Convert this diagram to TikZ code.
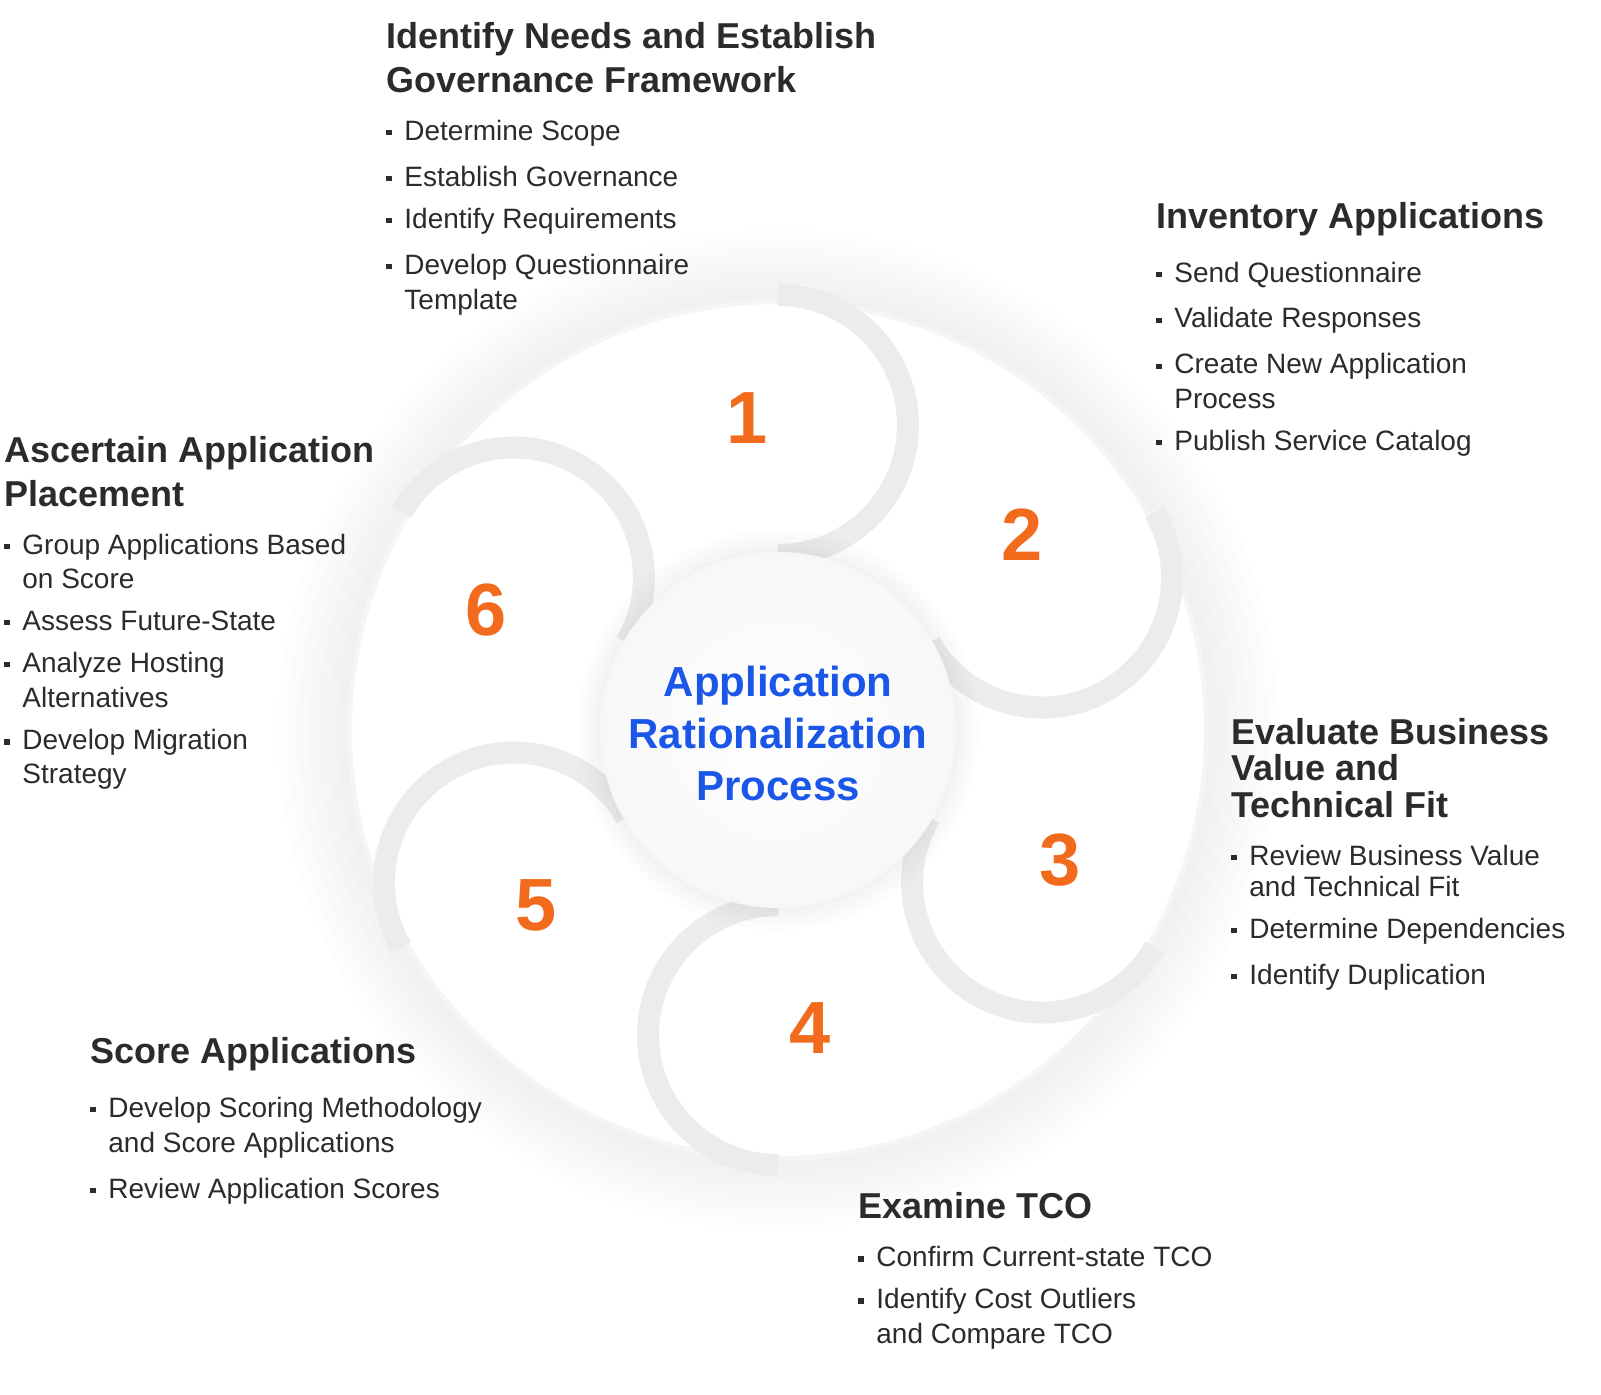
\documentclass[tikz,border=0pt]{standalone}
\usepackage{fontspec}
\setmainfont{Liberation Sans}
\usetikzlibrary{calc}
\definecolor{txt}{HTML}{2B2B2B}
\definecolor{org}{HTML}{F26B1D}
\definecolor{blu}{HTML}{1A56E8}
\definecolor{arcg}{HTML}{ECECEC}
\newcommand\itm[1]{\makebox[9pt][l]{\raisebox{2.5pt}{\rule{2.6pt}{2.6pt}}}#1}
\newcommand\cnt[1]{\hspace*{9pt}#1}
\newcommand\tf{\fontsize{18}{22}\selectfont\bfseries}
\newcommand\itf{\fontsize{14}{17}\selectfont\mdseries}
\tikzset{blk/.style={anchor=north west,align=left,inner sep=0pt,text=txt},
 num/.style={text=org,font=\fontsize{37}{37}\selectfont\bfseries},
 petal/.style={draw=arcg,line width=11pt}}
\begin{document}
\begin{tikzpicture}[x=0.5pt,y=0.5pt]
\foreach \r in {250,245,240,235,230,225,220}{\fill[black,opacity=0.006] (778,-730) circle (\r pt);}
\fill[white] (778,-730) circle (215pt);
\draw[gray!8,line width=2pt] (778,-730) circle (214pt);
\foreach \p in {90,30,-30,-90,-150,150}{
 \coordinate (c\p) at ($(778,-730)+(\p:152.5pt)$);
 \draw[petal] ($(c\p)+(\p:65pt)$) arc[start angle=\p, end angle=\p-180, radius=65pt];
}
\foreach \r in {100,97,94,91}{\fill[black,opacity=0.012] (778,-730) circle (\r pt);}
\shade[inner color=white,outer color=gray!6] (778,-730) circle (89pt);
\node[text=blu,align=center,font=\fontsize{21}{26}\selectfont\bfseries] (ctr) at (778,-733) {Application\\Rationalization\\Process};
\node[num] (n1) at (747,-418) {1};
\node[num] (n2) at (1022,-535) {2};
\node[num] (n3) at (1060,-860) {3};
\node[num] (n4) at (810,-1028) {4};
\node[num] (n5) at (536,-905) {5};
\node[num] (n6) at (486,-610) {6};
\node[blk] (b1) at (386,-22) {\tf Identify Needs and Establish\\[4pt]\tf Governance Framework\\[12pt]
\itf\itm{Determine Scope}\\[9pt]\itf\itm{Establish Governance}\\[9pt]\itf\itm{Identify Requirements}\\[9pt]\itf\itm{Develop Questionnaire}\\[3.5pt]\itf\cnt{Template}};
\node[blk] (b2) at (1156,-202) {\tf Inventory Applications\\[12pt]
\itf\itm{Send Questionnaire}\\[9pt]\itf\itm{Validate Responses}\\[9pt]\itf\itm{Create New Application}\\[3.5pt]\itf\cnt{Process}\\[9pt]\itf\itm{Publish Service Catalog}};
\node[blk] (b3) at (1231,-718) {\tf Evaluate Business\\[4pt]\tf Value and\\[4pt]\tf Technical Fit\\[12pt]
\itf\itm{Review Business Value}\\[3.5pt]\itf\cnt{and Technical Fit}\\[9pt]\itf\itm{Determine Dependencies}\\[9pt]\itf\itm{Identify Duplication}};
\node[blk] (b4) at (858,-1192) {\tf Examine TCO\\[12pt]
\itf\itm{Confirm Current-state TCO}\\[9pt]\itf\itm{Identify Cost Outliers}\\[3.5pt]\itf\cnt{and Compare TCO}};
\node[blk] (b5) at (90,-1037) {\tf Score Applications\\[12pt]
\itf\itm{Develop Scoring Methodology}\\[3.5pt]\itf\cnt{and Score Applications}\\[9pt]\itf\itm{Review Application Scores}};
\node[blk] (b6) at (4,-436) {\tf Ascertain Application\\[4pt]\tf Placement\\[12pt]
\itf\itm{Group Applications Based}\\[3.5pt]\itf\cnt{on Score}\\[9pt]\itf\itm{Assess Future-State}\\[9pt]\itf\itm{Analyze Hosting}\\[3.5pt]\itf\cnt{Alternatives}\\[9pt]\itf\itm{Develop Migration}\\[3.5pt]\itf\cnt{Strategy}};
\pgfresetboundingbox
\useasboundingbox (0,0) rectangle (1601,-1394);
\end{tikzpicture}
\end{document}
